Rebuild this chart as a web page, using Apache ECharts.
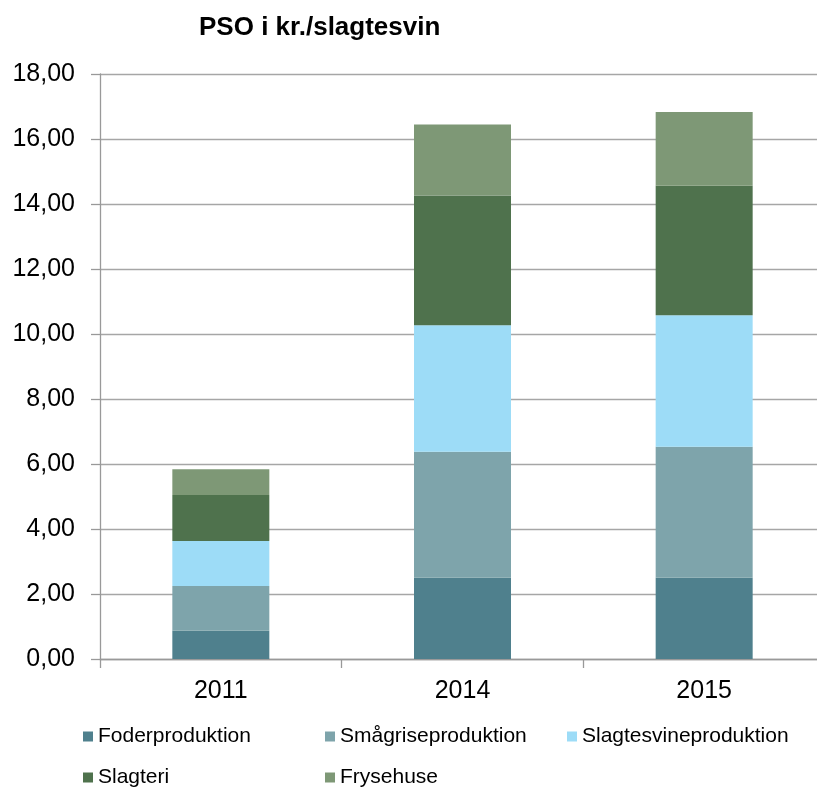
<!DOCTYPE html>
<html>
<head>
<meta charset="utf-8">
<script src="https://cdn.jsdelivr.net/npm/echarts@6/dist/echarts.min.js"></script>
<style>
  html, body { margin: 0; padding: 0; background: #fff; }
  #main { width: 817px; height: 788px; }
</style>
</head>
<body>
<div id="main"></div>
<script>
var years = ['2011', '2014', '2015'];
var seriesNames = ['Foderproduktion', 'Smågriseproduktion', 'Slagtesvineproduktion', 'Slagteri', 'Frysehuse'];
// værdier (kr. pr. slagtesvin)
var foder = [0.87, 2.50, 2.50];
var smaagrise = [1.38, 3.88, 4.03];
var slagtesvine = [1.38, 3.89, 4.05];
var slagteri = [1.42, 3.99, 3.98];
var frysehuse = [0.79, 2.19, 2.27];
var yTicks = { min: 0, max: 18, interval: 2 };

var colors = ['#4f808d', '#7ea4ab', '#9ddcf7', '#4f724d', '#7e9876'];
var values = [foder, smaagrise, slagtesvine, slagteri, frysehuse];

var myChart = echarts.init(document.getElementById('main'));

var series = [];
for (var i = 0; i < seriesNames.length; i++) {
  series.push({
    name: seriesNames[i],
    type: 'bar',
    stack: 'pso',
    barWidth: 97,
    data: values[i],
    itemStyle: { color: colors[i] }
  });
}

// en legende pr. element, så kolonnerne står som i Excel
var legends = [];
for (var k = 0; k < seriesNames.length; k++) {
  legends.push({
    data: [seriesNames[k]],
    left: 83 + (k % 3) * 242,
    top: k < 3 ? 726 : 767,
    padding: 0,
    icon: 'rect',
    itemWidth: 10,
    itemHeight: 10,
    textStyle: {
      fontFamily: '"Liberation Sans", Arial, sans-serif',
      fontSize: 21,
      color: '#000'
    }
  });
}

var option = {
  animation: false,
  color: colors,
  title: {
    text: 'PSO i kr./slagtesvin',
    left: 199,
    top: 15,
    padding: 0,
    textStyle: {
      fontFamily: '"Liberation Sans", Arial, sans-serif',
      fontSize: 26,
      fontWeight: 'bold',
      color: '#000'
    }
  },
  legend: legends,
  grid: {
    left: 100,
    top: 74,
    right: -8,
    bottom: 129,
    containLabel: false,
    outerBoundsMode: 'none'
  },
  xAxis: {
    type: 'category',
    data: years,
    axisLine: { lineStyle: { color: '#999', width: 1.3 } },
    axisTick: { show: true, length: 9, lineStyle: { color: '#999', width: 1.3 } },
    axisLabel: {
      fontFamily: '"Liberation Sans", Arial, sans-serif',
      fontSize: 25,
      color: '#000',
      margin: 20
    }
  },
  yAxis: {
    type: 'value',
    min: yTicks.min,
    max: yTicks.max,
    interval: yTicks.interval,
    axisLine: { show: true, lineStyle: { color: '#999', width: 1.3 } },
    axisTick: { show: true, length: 9, lineStyle: { color: '#999', width: 1.3 } },
    splitLine: { lineStyle: { color: '#a6a6a6', width: 1.3 } },
    axisLabel: {
      fontFamily: '"Liberation Sans", Arial, sans-serif',
      fontSize: 25,
      color: '#000',
      margin: 25,
      formatter: function (v) {
        return v.toFixed(2).replace('.', ',');
      }
    }
  },
  series: series
};

myChart.setOption(option);
</script>
</body>
</html>
